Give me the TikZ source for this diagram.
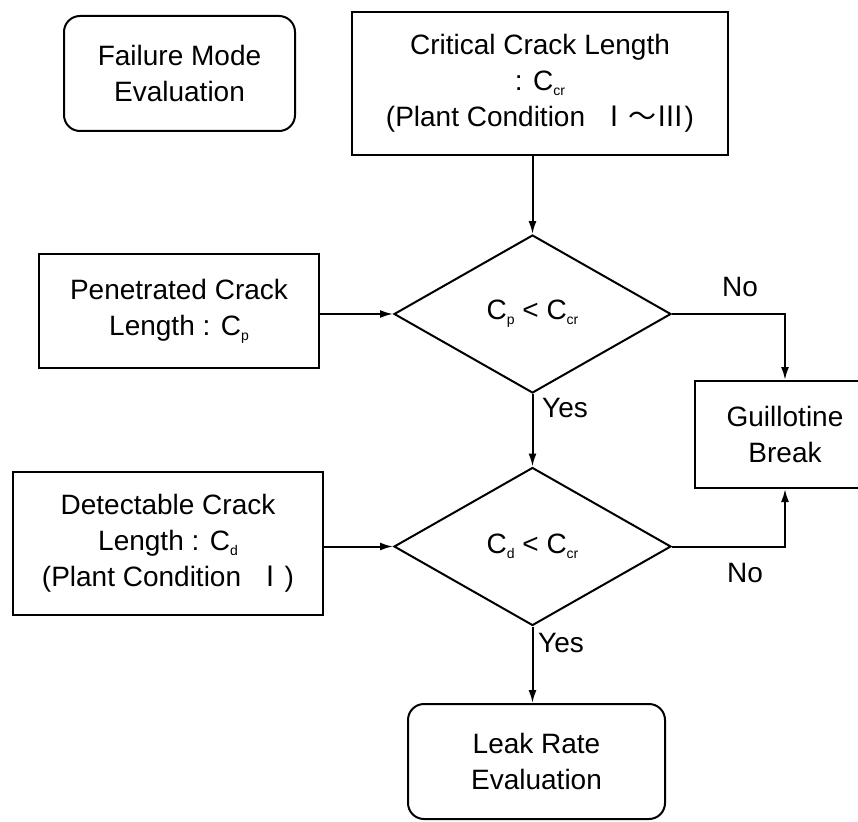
\documentclass[tikz,border=0pt]{standalone}
\usepackage{fontspec}
\setmainfont{Liberation Sans}
\newfontfamily\cjk{Noto Sans CJK JP}
\usetikzlibrary{shapes.geometric,arrows.meta}
\newcommand\subtxt[1]{\raisebox{-5pt}{\fontsize{14}{14}\selectfont #1}}
\begin{document}
\begin{tikzpicture}[x=1pt,y=-1pt,
  lbl/.style={font=\fontsize{28}{36}\selectfont, align=center},
  box/.style={draw, line width=2pt, rectangle, inner sep=0pt, lbl},
  rbox/.style={box, rounded corners=16pt},
  dia/.style={draw, line width=2pt, diamond, inner sep=0pt, minimum width=277pt, minimum height=158pt, lbl},
  arr/.style={line width=2pt, -{Latex[length=13pt,width=8pt]}},
  tag/.style={font=\fontsize{28}{36}\selectfont, inner sep=0pt}]
\useasboundingbox (0,0) rectangle (858,821);
\clip (0,0) rectangle (858,821);

\node[rbox, minimum width=231pt, minimum height=115pt] (fail) at (179.5,73.5) {Failure Mode\\Evaluation};
\node[box, minimum width=376pt, minimum height=143pt] (crit) at (540,83.5) {Critical Crack Length\\: C\subtxt{cr}\\(Plant Condition\ \ {\cjk Ⅰ～Ⅲ})};
\node[dia] (d1) at (532.5,314) {C\subtxt{p} < C\subtxt{cr}};
\node[box, minimum width=280pt, minimum height=114pt] (pen) at (179,311) {Penetrated Crack\\Length : C\subtxt{p}};
\node[box, minimum width=180pt, minimum height=107pt] (guil) at (785,434.5) {Guillotine\\Break};
\node[dia] (d2) at (532.5,546.5) {C\subtxt{d} < C\subtxt{cr}};
\node[box, minimum width=310pt, minimum height=143pt] (det) at (168,543.5) {Detectable Crack\\Length : C\subtxt{d}\\(Plant Condition\ \ {\cjk Ⅰ})};
\node[rbox, minimum width=257pt, minimum height=115pt] (leak) at (536.5,761.5) {Leak Rate\\Evaluation};

\draw[arr] (d1.north |- crit.south) -- (d1.north);
\draw[arr] (pen.east |- d1.west) -- (d1.west);
\draw[arr] (d1.south) -- (d2.north);
\draw[arr] (det.east |- d2.west) -- (d2.west);
\draw[arr] (d1.east) -| (guil.north);
\draw[arr] (d2.east) -| (guil.south);
\draw[arr] (d2.south) -- (d2.south |- leak.north);

\node[tag] (no1) at (740,287) {No};
\node[tag] (no2) at (745,573) {No};
\node[tag, anchor=west] (yes1) at (542,408) {Yes};
\node[tag, anchor=west] (yes2) at (538,643) {Yes};
\end{tikzpicture}
\end{document}
